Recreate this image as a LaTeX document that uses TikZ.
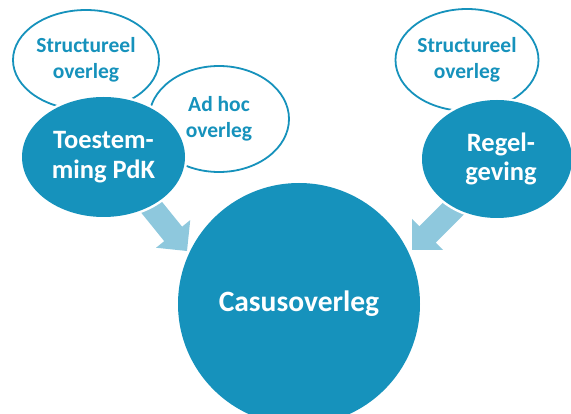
\documentclass[tikz,border=0pt]{standalone}
\usepackage{fontspec}
\setmainfont{Carlito}
\usetikzlibrary{shapes.geometric}
\definecolor{cblue}{RGB}{22,146,188}
\definecolor{lblue}{RGB}{142,200,221}
\begin{document}
\begin{tikzpicture}[x=1pt,y=-1pt,
  outl/.style={ellipse, draw=cblue, line width=1.8pt, fill=white, text=cblue,
    font=\fontsize{21.5}{25.5}\selectfont\bfseries, align=center, inner sep=0pt,
    preaction={draw=white, line width=6pt}},
  filled/.style={ellipse, fill=cblue, text=white,
    font=\fontsize{26.5}{29.5}\selectfont\bfseries, align=center, inner sep=0pt,
    preaction={draw=white, line width=5pt}},
  blockarrow/.style={fill=lblue}
]
\useasboundingbox (0,0) rectangle (571,414);
% arrow tips
\coordinate (tipL) at (187,251);
\coordinate (tipR) at (412,250);
\begin{scope}[shift={(tipL)}, rotate=-51]
  \fill[blockarrow] (0,0) -- (-22,22) -- (-22,11.5) -- (-72,11.5) -- (-72,-11.5) -- (-22,-11.5) -- (-22,-22) -- cycle;
\end{scope}
\begin{scope}[shift={(tipR)}, rotate=-135]
  \fill[blockarrow] (0,0) -- (-22,22) -- (-22,11.5) -- (-72,11.5) -- (-72,-11.5) -- (-22,-11.5) -- (-22,-22) -- cycle;
\end{scope}
% central circle
\node[filled, circle, minimum size=242pt, font=\fontsize{29.5}{33}\selectfont\bfseries] (cas) at (299,304) {Casusoverleg};
% left cluster
\node[outl, minimum width=146pt, minimum height=100pt] (s1) at (86,60) {Structureel\\overleg};
\node[outl, minimum width=140pt, minimum height=106pt] (adhoc) at (219,119) {Ad hoc\\overleg};
\node[filled, minimum width=163pt, minimum height=120pt] (toe) at (103.5,157) {Toestem-\\ming PdK};
% right cluster
\node[outl, minimum width=143pt, minimum height=102pt] (s2) at (467,60) {Structureel\\overleg};
\node[filled, minimum width=150pt, minimum height=118pt] (reg) at (497,159) {\hspace*{8pt}Regel-\\\hspace*{8pt}geving};
\end{tikzpicture}
\end{document}
